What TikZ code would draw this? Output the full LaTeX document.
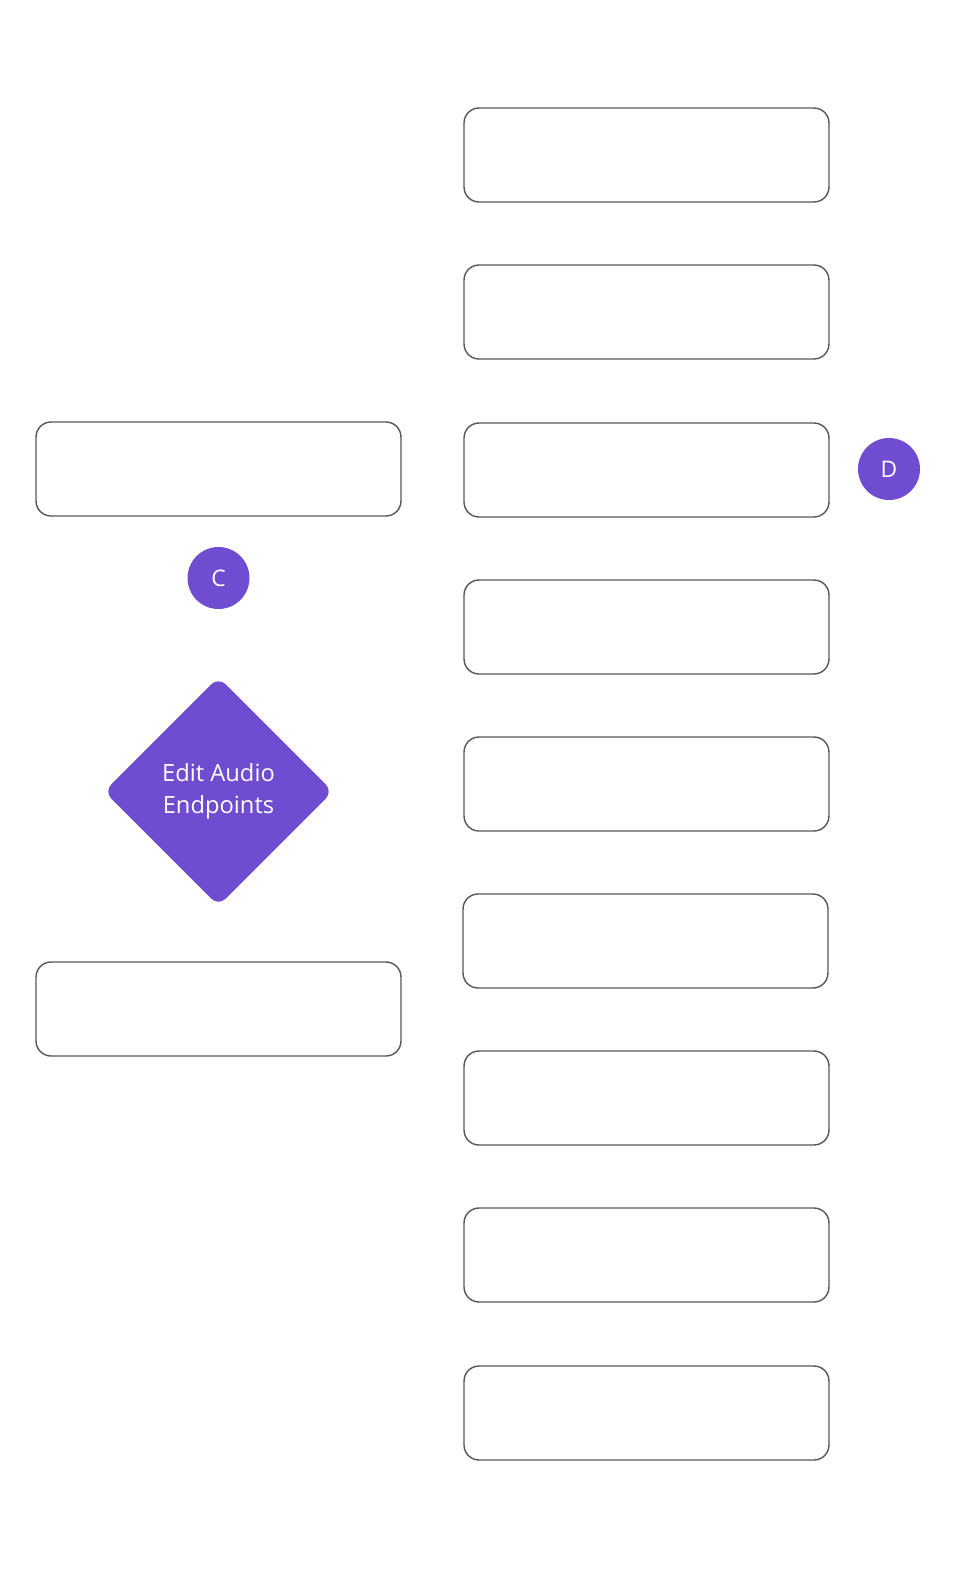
\documentclass[tikz,border=0pt]{standalone}
\usepackage{fontspec}
\setmainfont{Open Sans}
\usepackage{tikz}
\usetikzlibrary{shapes.geometric}
\usepackage{xcolor}
\definecolor{flowpurple}{RGB}{111,76,208}
\definecolor{flowgray}{RGB}{88,88,88}

\tikzset{
	stepbox/.style={draw=flowgray, line width=0.8pt, rounded corners=0.3cm, fill=white, minimum width=7.3cm, minimum height=1.88cm, inner sep=0pt},
	marker/.style={circle, fill=flowpurple, text=white, minimum size=1.24cm, inner sep=0pt, font=\fontsize{13}{16}\selectfont},
	choice/.style={diamond, fill=flowpurple, text=white, rounded corners=0.2cm, minimum width=4.58cm, minimum height=4.58cm, inner sep=0pt, align=center, font=\fontsize{13.5}{18}\selectfont}
}

\begin{document}
\begin{tikzpicture}[x=0.02cm, y=-0.02cm]
					\useasboundingbox (0,0) rectangle (964,1582);
					
					\node[stepbox] at (646.5, 155) (r1) {};
					\node[stepbox] at (646.5, 312) (r2) {};
					\node[stepbox] at (646.5, 470) (r3) {};
					\node[stepbox] at (646.5, 627) (r4) {};
					\node[stepbox] at (646.5, 784) (r5) {};
					\node[stepbox] at (645.5, 941) (r6) {};
					\node[stepbox] at (646.5, 1098) (r7) {};
					\node[stepbox] at (646.5, 1255) (r8) {};
					\node[stepbox] at (646.5, 1413) (r9) {};
					
					\node[stepbox] at (218.5, 469) (l1) {};
					\node[stepbox] at (218.5, 1009) (l2) {};
					
					\node[marker] at (889, 469) (d) {D};
					\node[marker] at (218.5, 578) (c) {C};
					\node[choice] at (218.5, 791.5) (edit) {Edit Audio\\Endpoints};
				\end{tikzpicture}
\end{document}
